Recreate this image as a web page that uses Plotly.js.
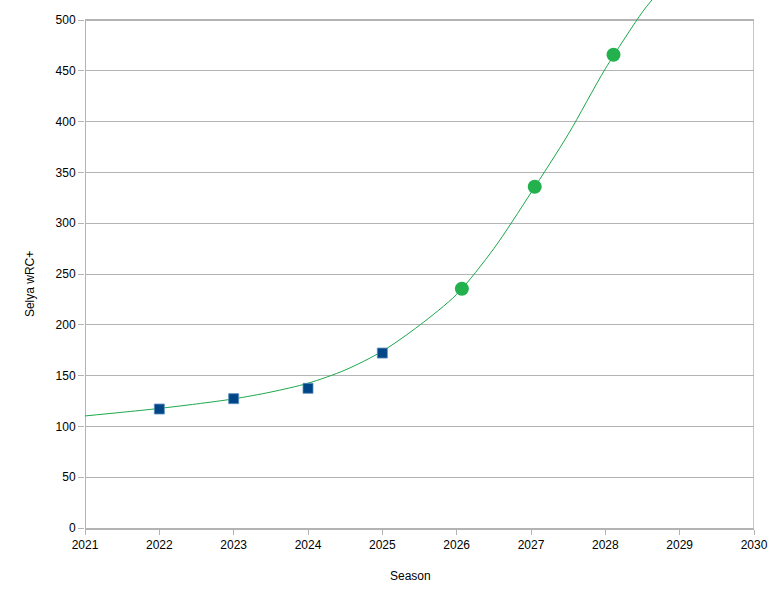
<!DOCTYPE html>
<html>
<head>
<meta charset="utf-8">
<script src="https://cdn.plot.ly/plotly-3.0.1.min.js"></script>
<style>
  html, body { margin: 0; padding: 0; background: #ffffff; }
  #chart { width: 780px; height: 603px; }
</style>
</head>
<body>
<div id="chart"></div>
<script>
// Observed seasons (blue squares)
const actualSeasons = [2022, 2023, 2024, 2025];
const actualWrc = [117.1, 127.3, 137.5, 172.2];

// Projected seasons (green circles)
const projSeasons = [2026.07, 2027.05, 2028.11];
const projWrc = [235.5, 335.9, 465.8];

// Trend curve
const trendSeasons = [2021, 2021.5, 2022, 2022.5, 2023, 2023.5, 2024, 2024.5, 2025, 2025.5, 2026, 2026.5, 2027, 2027.5, 2028, 2028.5, 2028.63];
const trendWrc = [110.3, 113.9, 117.7, 122.1, 127.1, 133.8, 142.5, 155.5, 174, 199.5, 230, 275, 330, 387.4, 452, 508, 520];

// Axis ticks
const xTicks = [2021, 2022, 2023, 2024, 2025, 2026, 2027, 2028, 2029, 2030];
const yTicks = [0, 50, 100, 150, 200, 250, 300, 350, 400, 450, 500];

const xTitle = 'Season';
const yTitle = 'Selya wRC+';

const gridColor = '#b3b3b3';
const fontFam = '"Liberation Sans", Arial, sans-serif';

const traces = [
  {
    x: trendSeasons, y: trendWrc, type: 'scatter', mode: 'lines',
    line: { color: '#1aa84a', width: 1, shape: 'spline', smoothing: 0.8 },
    hoverinfo: 'skip', showlegend: false
  },
  {
    x: actualSeasons, y: actualWrc, type: 'scatter', mode: 'markers',
    marker: { symbol: 'square', size: 10, color: '#004586',
              line: { color: 'rgba(90,140,190,0.8)', width: 1 } },
    showlegend: false, cliponaxis: false
  },
  {
    x: projSeasons, y: projWrc, type: 'scatter', mode: 'markers',
    marker: { symbol: 'circle', size: 14, color: '#22b14c', line: { width: 0 } },
    showlegend: false, cliponaxis: false
  }
];

const xMin = xTicks[0], xMax = xTicks[xTicks.length - 1];
const yTop = yTicks[yTicks.length - 1];

const layout = {
  width: 780, height: 603,
  margin: { l: 85, r: 26, t: 0, b: 75 },
  paper_bgcolor: '#ffffff', plot_bgcolor: '#ffffff',
  font: { family: fontFam, size: 12, color: '#000000' },
  xaxis: {
    range: [xMin, xMax], tickvals: xTicks, ticktext: xTicks.map(String),
    showgrid: false, zeroline: false,
    showline: true, linecolor: gridColor, linewidth: 2,
    ticks: 'outside', ticklen: 5, tickcolor: gridColor, tickwidth: 1,
    tickfont: { family: fontFam, size: 12, color: '#000' }
  },
  yaxis: {
    range: [0, 519.7], tickvals: yTicks, ticktext: yTicks.map(String),
    showgrid: true, gridcolor: gridColor, gridwidth: 1,
    zeroline: false, showline: false,
    ticks: 'outside', ticklen: 6, tickcolor: gridColor, tickwidth: 1,
    tickfont: { family: fontFam, size: 12, color: '#000' }
  },
  shapes: [
    { type: 'line', xref: 'x', yref: 'y', x0: xMin, x1: xMin, y0: 0, y1: yTop,
      line: { color: gridColor, width: 2 }, layer: 'below' },
    { type: 'line', xref: 'x', yref: 'y', x0: xMax, x1: xMax, y0: 0, y1: yTop,
      line: { color: gridColor, width: 1.5 }, layer: 'below' },
    { type: 'line', xref: 'x', yref: 'y', x0: xMin, x1: xMax, y0: yTop, y1: yTop,
      line: { color: gridColor, width: 2 }, layer: 'below' }
  ],
  annotations: [
    { text: xTitle, xref: 'paper', yref: 'paper', x: 0.487, y: -0.0909,
      showarrow: false, xanchor: 'center', yanchor: 'middle',
      font: { family: fontFam, size: 12, color: '#000' } },
    { text: yTitle, xref: 'paper', yref: 'paper', x: -0.0822, y: 0.462,
      showarrow: false, xanchor: 'center', yanchor: 'middle', textangle: -90,
      font: { family: fontFam, size: 12, color: '#000' } }
  ]
};

Plotly.newPlot('chart', traces, layout, { displayModeBar: false, staticPlot: true });
</script>
</body>
</html>
